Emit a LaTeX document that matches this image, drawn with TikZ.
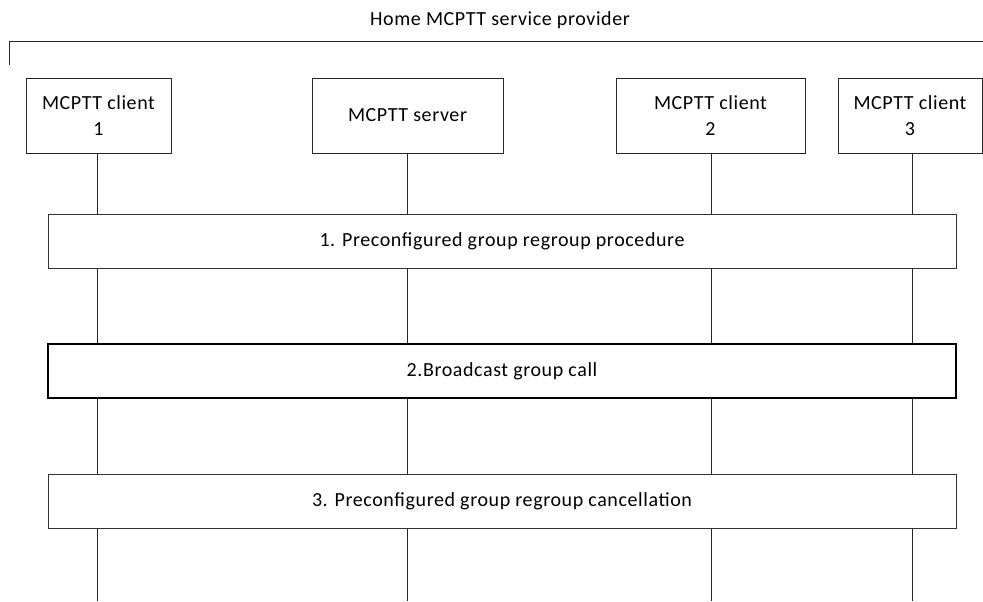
\documentclass[tikz,border=0pt]{standalone}
\usepackage{fontspec}
\setmainfont[LetterSpace=3]{Carlito}
\begin{document}
\begin{tikzpicture}[x=0.75pt,y=-0.75pt,
  txt/.style={font=\fontsize{15}{19}\selectfont},
  ent/.style={txt,draw=black!85,line width=0.75pt,fill=white,inner sep=0pt,align=center,minimum height=56.25pt},
  stepbox/.style={txt,draw=black!80,line width=0.75pt,fill=white,inner sep=0pt,minimum width=681pt,minimum height=40.5pt},
  life/.style={draw=black!85,line width=0.75pt}]
\useasboundingbox (0,0) rectangle (983,601);
% provider bracket
\node[txt] (title) at (500,20) {Home MCPTT service provider};
\coordinate (bl) at (9,65);
\coordinate (bt) at (9,41);
\coordinate (br) at (983,41);
\draw[life] (bl) -- (bt) -- (br);
% entities
\node[ent,minimum width=108.75pt] (c1) at (98.5,115.5) {MCPTT client\\1};
\node[ent,minimum width=143.25pt] (srv) at (407.5,115.5) {MCPTT server};
\node[ent,minimum width=141.75pt] (c2) at (710.5,115.5) {MCPTT client\\2};
\node[ent,minimum width=108pt] (c3) at (910,115.5) {MCPTT client\\3};
% lifelines bottom ends
\coordinate (e1) at (97,601);
\coordinate (e2) at (407,601);
\coordinate (e3) at (711,601);
\coordinate (e4) at (912,601);
\draw[life] (c1.south -| e1) -- (e1);
\draw[life] (srv.south -| e2) -- (e2);
\draw[life] (c2.south -| e3) -- (e3);
\draw[life] (c3.south -| e4) -- (e4);
% steps
\node[stepbox] (s1) at (502,241) {1. Preconfigured group regroup procedure};
\node[stepbox,line width=1.5pt,draw=black] (s2) at (502,371) {2.Broadcast group call};
\node[stepbox] (s3) at (502,501.5) {3. Preconfigured group regroup cancellation};
\end{tikzpicture}
\end{document}
